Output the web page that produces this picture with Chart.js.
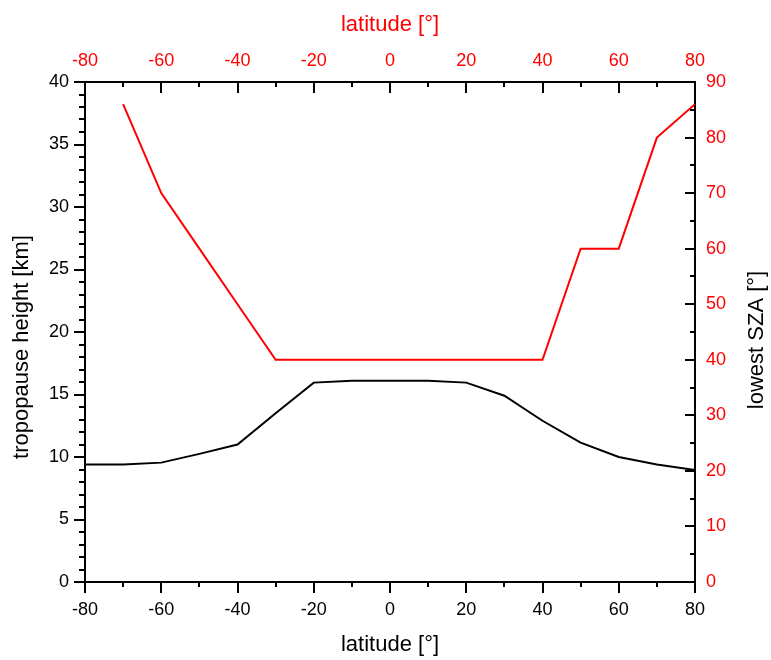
<!DOCTYPE html>
<html>
<head>
<meta charset="utf-8">
<script src="https://cdn.jsdelivr.net/npm/chart.js@4/dist/chart.umd.min.js"></script>
<style>
  html, body { margin: 0; padding: 0; background: #fff; }
  #wrap { width: 771px; height: 660px; position: relative; }
</style>
</head>
<body>
<div id="wrap"><canvas id="chart"></canvas></div>
<script>
const RED = '#ff0000';
const BLACK = '#000000';
const FONT = "'Liberation Sans', Arial, sans-serif";

// tropopause height along latitude
const latitudes = [-80, -70, -60, -50, -40, -30, -20, -10, 0, 10, 20, 30, 40, 50, 60, 70, 80];
const tropopauseKm = [9.4, 9.4, 9.55, 10.25, 11.0, 13.5, 15.95, 16.1, 16.1, 16.1, 15.95, 14.9, 12.9, 11.15, 10.0, 9.4, 8.95];

// lowest solar zenith angle along latitude
const szaLatitudes = [-70, -60, -50, -40, -30, -20, -10, 0, 10, 20, 30, 40, 50, 60, 70, 80];
const lowestSza = [86, 70, 60, 50, 40, 40, 40, 40, 40, 40, 40, 40, 60, 60, 80, 86];

// axis ticks
const latTicks = [-80, -60, -40, -20, 0, 20, 40, 60, 80];
const kmTicks = [0, 5, 10, 15, 20, 25, 30, 35, 40];
const szaTicks = [0, 10, 20, 30, 40, 50, 60, 70, 80, 90];

// major + minor tick marks, drawn by hand (Chart.js has no minor ticks)
const tickMarks = {
    id: 'tickMarks',
    afterDraw(chart) {
        const { ctx, chartArea: a, scales } = chart;
        ctx.save();
        ctx.strokeStyle = BLACK;
        ctx.lineWidth = 2;
        ctx.beginPath();
        for (let v = -80; v <= 80; v += 10) {
            const major = v % 20 === 0;
            const px = Math.round(scales.x.getPixelForValue(v));
            ctx.moveTo(px, a.bottom);
            ctx.lineTo(px, a.bottom + (major ? 11 : 5));
            const pt = Math.round(scales.x2.getPixelForValue(v));
            ctx.moveTo(pt, a.top);
            ctx.lineTo(pt, a.top + (major ? 11 : 5));
        }
        for (let v = 0; v <= 40; v += 1) {
            const py = Math.round(scales.y.getPixelForValue(v));
            ctx.moveTo(a.left, py);
            ctx.lineTo(a.left - (v % 5 === 0 ? 11 : 6), py);
        }
        for (let v = 0; v <= 90; v += 5) {
            const py = Math.round(scales.y2.getPixelForValue(v));
            ctx.moveTo(a.right, py);
            ctx.lineTo(a.right - (v % 10 === 0 ? 10 : 5), py);
        }
        ctx.stroke();

        // vertical axis titles, both reading bottom to top
        ctx.fillStyle = BLACK;
        ctx.font = '22px ' + FONT;
        ctx.textAlign = 'center';
        ctx.textBaseline = 'middle';
        ctx.translate(22, 347);
        ctx.rotate(-Math.PI / 2);
        ctx.fillText('tropopause height [km]', 0, 0);
        ctx.setTransform(1, 0, 0, 1, 0, 0);
        ctx.translate(757, 340);
        ctx.rotate(-Math.PI / 2);
        ctx.fillText('lowest SZA [°]', 0, 0);
        ctx.restore();
    }
};

const fixedTicks = values => scale => {
    scale.ticks = values.map(v => ({ value: v }));
};

new Chart(document.getElementById('chart'), {
    type: 'line',
    data: {
        datasets: [
            {
                label: 'tropopause height',
                data: latitudes.map((lat, i) => ({ x: lat, y: tropopauseKm[i] })),
                borderColor: BLACK,
                borderWidth: 2,
                pointRadius: 0,
                tension: 0,
                xAxisID: 'x',
                yAxisID: 'y'
            },
            {
                label: 'lowest SZA',
                data: szaLatitudes.map((lat, i) => ({ x: lat, y: lowestSza[i] })),
                borderColor: RED,
                borderWidth: 2,
                pointRadius: 0,
                tension: 0,
                xAxisID: 'x2',
                yAxisID: 'y2'
            }
        ]
    },
    options: {
        responsive: true,
        maintainAspectRatio: false,
        animation: false,
        layout: { padding: 0 },
        plugins: { legend: { display: false }, tooltip: { enabled: false } },
        scales: {
            x: {
                type: 'linear', position: 'bottom', min: -80, max: 80,
                afterBuildTicks: fixedTicks(latTicks),
                afterFit: s => { s.height = 78; },
                ticks: { color: BLACK, font: { family: FONT, size: 18 }, padding: 17 },
                grid: { display: false, drawTicks: false },
                border: { color: BLACK, width: 2 },
                title: { display: true, text: 'latitude [°]', color: BLACK,
                         font: { family: FONT, size: 22 }, padding: { top: 0, bottom: 2 } }
            },
            x2: {
                type: 'linear', position: 'top', min: -80, max: 80,
                afterBuildTicks: fixedTicks(latTicks),
                afterFit: s => { s.height = 82; },
                ticks: { color: RED, font: { family: FONT, size: 18 }, padding: 10 },
                grid: { display: false, drawTicks: false },
                border: { color: BLACK, width: 2 },
                title: { display: true, text: 'latitude [°]', color: RED,
                         font: { family: FONT, size: 22 }, padding: { top: 12, bottom: 0 } }
            },
            y: {
                type: 'linear', position: 'left', min: 0, max: 40,
                afterBuildTicks: fixedTicks(kmTicks),
                afterFit: s => { s.width = 85; },
                ticks: { color: BLACK, font: { family: FONT, size: 18 }, padding: 16 },
                grid: { display: false, drawTicks: false },
                border: { color: BLACK, width: 2 }
            },
            y2: {
                type: 'linear', position: 'right', min: 0, max: 90,
                afterBuildTicks: fixedTicks(szaTicks),
                afterFit: s => { s.width = 76; },
                ticks: { color: RED, font: { family: FONT, size: 18 }, padding: 11 },
                grid: { display: false, drawTicks: false },
                border: { color: BLACK, width: 2 }
            }
        }
    },
    plugins: [tickMarks]
});
</script>
</body>
</html>
